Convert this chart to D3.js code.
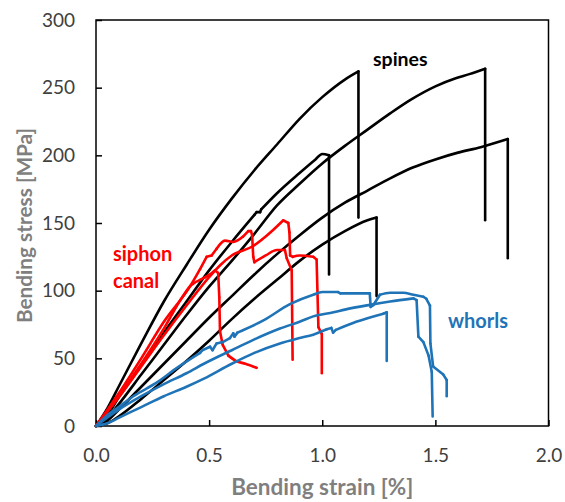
<!DOCTYPE html>
<html><head><meta charset="utf-8">
<script src="https://cdn.jsdelivr.net/npm/d3@7"></script>
<style>body{margin:0;background:#fff}</style>
</head><body>
<svg id="c" width="565" height="502"></svg>
<script>
// ---- data (strain %, stress MPa) ----
const spines1 = [[0,0],[0.05,13],[0.1,29],[0.2,61],[0.3,92],[0.4,119],[0.5,145],[0.6,168],[0.7,189],[0.8,208],[0.9,227],[1.0,243],[1.1,256],[1.16,262],[1.16,154]];
const spines2 = [[0,0],[0.05,6],[0.1,16],[0.2,38],[0.3,60],[0.4,82],[0.5,103],[0.6,122],[0.7,142],[0.8,163],[0.9,179],[1.0,194],[1.1,207],[1.2,219],[1.3,231],[1.39,241],[1.5,251],[1.59,257],[1.65,260],[1.72,264],[1.72,152]];
const spines3 = [[0,0],[0.05,8],[0.1,21],[0.2,45],[0.3,69],[0.4,92],[0.5,115],[0.6,136],[0.7,156],[0.71,158],[0.725,158],[0.73,160],[0.8,172],[0.9,187],[0.97,197],[1.0,201],[1.03,200],[1.03,112]];
const spines4 = [[0,0],[0.05,4],[0.1,12],[0.2,29],[0.3,46],[0.4,63],[0.5,80],[0.6,96],[0.7,112],[0.8,127],[0.9,141],[1.0,154],[1.1,165],[1.2,174],[1.3,183],[1.4,191],[1.5,197],[1.6,202],[1.7,206],[1.82,212],[1.82,124]];
const spines5 = [[0,0],[0.05,2],[0.1,7],[0.2,20],[0.3,34],[0.4,48],[0.5,63],[0.6,79],[0.7,94],[0.8,108],[0.9,122],[1.0,134],[1.1,144],[1.2,152],[1.24,154],[1.24,96]];

const siphon1 = [[0,0],[0.1,22],[0.2,46],[0.3,72],[0.38,95],[0.42,104],[0.46,108],[0.483,110],[0.504,112],[0.526,115],[0.54,113],[0.545,95],[0.548,70],[0.56,60],[0.585,52],[0.62,48],[0.66,46],[0.71,43]];
const siphon2 = [[0,0],[0.1,24],[0.2,50],[0.3,77],[0.415,103],[0.46,116],[0.489,125],[0.511,126],[0.533,131],[0.57,137],[0.607,136],[0.65,140],[0.673,144],[0.685,144],[0.69,141],[0.695,125],[0.70,121],[0.75,126],[0.8,130],[0.835,130],[0.843,124],[0.865,115],[0.869,49]];
const siphon3 = [[0,0],[0.1,21],[0.2,44],[0.3,67],[0.4,89],[0.5,110],[0.55,119],[0.6,126],[0.695,133],[0.75,140],[0.784,145],[0.828,152],[0.85,150],[0.855,143],[0.858,126],[0.87,125],[0.9,126],[0.96,125],[0.975,123],[0.983,73],[0.998,68],[0.998,39]];

const whorls1 = [[0,0],[0.05,8],[0.1,14],[0.165,22],[0.268,32],[0.35,42],[0.46,54],[0.47,56],[0.504,58.6],[0.515,56],[0.533,61],[0.56,62],[0.592,65],[0.607,68.5],[0.612,66],[0.625,69],[0.74,78],[0.857,90],[0.96,97],[1.0,99],[1.07,99],[1.08,98],[1.21,98],[1.214,88],[1.226,89.4],[1.255,97],[1.3,98.5],[1.358,98.5],[1.403,97],[1.447,95.5],[1.46,94],[1.476,89],[1.478,61],[1.49,44],[1.535,38],[1.55,34],[1.55,22]];
const whorls2 = [[0,0],[0.1,12],[0.2,22],[0.3,31],[0.4,39],[0.477,46],[0.6,56],[0.7,64],[0.813,72],[0.9,77],[0.96,81],[1.05,84],[1.1,86],[1.21,89.5],[1.3,92],[1.403,94.3],[1.417,93],[1.425,66],[1.447,62],[1.47,52],[1.484,40],[1.488,7]];
const whorls3 = [[0,0],[0.05,2],[0.1,6],[0.2,14],[0.3,22],[0.4,29],[0.477,35],[0.6,46],[0.7,54],[0.813,61],[0.9,65],[0.96,67.5],[1.02,71.5],[1.04,72.5],[1.048,69],[1.06,71],[1.15,77],[1.27,83],[1.285,84],[1.285,48]];

const xTicks = [0, 0.5, 1.0, 1.5, 2.0];
const yTicks = [0, 50, 100, 150, 200, 250, 300];

const groups = [
  {name:"spines", color:"#000000", series:[spines1,spines2,spines3,spines4,spines5]},
  {name:"siphon", color:"#ff0000", series:[siphon1,siphon2,siphon3]},
  {name:"whorls", color:"#1f74b8", series:[whorls1,whorls2,whorls3]}
];

// ---- layout ----
const L=96, R=548.5, T=20, B=426;
const svg = d3.select("#c");
const x = d3.scaleLinear().domain([0,2]).range([L,R]);
const y = d3.scaleLinear().domain([0,300]).range([B,T]);
const font = "Lato, 'Open Sans', sans-serif";

// axes
const gx = svg.append("g").attr("transform",`translate(0,${B})`)
  .call(d3.axisBottom(x).tickValues(xTicks).tickFormat(d3.format(".1f")).tickSizeInner(-6).tickSizeOuter(0).tickPadding(23));
const gy = svg.append("g").attr("transform",`translate(${L},0)`)
  .call(d3.axisLeft(y).tickValues(yTicks).tickSizeInner(-6).tickSizeOuter(0).tickPadding(21));
[gx,gy].forEach(g=>{
  g.select(".domain").remove();
  g.selectAll("line").attr("stroke","#000").attr("stroke-width",1.5);
  g.selectAll("text").attr("font-family",font).attr("font-size",19).attr("fill","#404040");
});

// frame
svg.append("rect").attr("x",L).attr("y",T).attr("width",R-L).attr("height",B-T)
  .attr("fill","none").attr("stroke","#000").attr("stroke-width",1.5);

// curves: smooth runs (steady increasing strain) drawn with monotone curve, jumps/drops drawn straight
const smoothLine = d3.line().x(d=>x(d[0])).y(d=>y(d[1])).curve(d3.curveMonotoneX);
const straightLine = d3.line().x(d=>x(d[0])).y(d=>y(d[1]));
function pieces(pts){
  const out=[]; let run=[pts[0]];
  for(let i=1;i<pts.length;i++){
    const dx=pts[i][0]-pts[i-1][0];
    if(dx>=0.03){ run.push(pts[i]); }
    else {
      if(run.length>1) out.push({pts:run,smooth:true});
      out.push({pts:[pts[i-1],pts[i]],smooth:false});
      run=[pts[i]];
    }
  }
  if(run.length>1) out.push({pts:run,smooth:true});
  return out;
}
groups.forEach(g=>{
  const gg = svg.append("g").attr("class",g.name);
  g.series.forEach(s=>{
    gg.selectAll(null).data(pieces(s)).join("path")
      .attr("d",p=>p.smooth?smoothLine(p.pts):straightLine(p.pts))
      .attr("fill","none").attr("stroke",g.color)
      .attr("stroke-width",2.6).attr("stroke-linejoin","round").attr("stroke-linecap","round");
  });
});

// annotations
svg.append("text").attr("x",373).attr("y",66)
  .attr("font-family",font).attr("font-weight","bold").attr("font-size",19.5).attr("fill","#000").text("spines");
svg.append("text").attr("x",113).attr("y",261)
  .attr("font-family",font).attr("font-weight","bold").attr("font-size",20).attr("fill","#ff0000").text("siphon");
svg.append("text").attr("x",113).attr("y",288)
  .attr("font-family",font).attr("font-weight","bold").attr("font-size",20).attr("fill","#ff0000").text("canal");
svg.append("text").attr("x",448).attr("y",328)
  .attr("font-family",font).attr("font-weight","bold").attr("font-size",20).attr("fill","#1f74b8").text("whorls");

// axis titles
svg.append("text").attr("x",(L+R)/2).attr("y",495).attr("text-anchor","middle")
  .attr("font-family",font).attr("font-weight","bold").attr("font-size",22.5).attr("fill","#7f7f7f").text("Bending strain [%]");
svg.append("text").attr("transform",`translate(32,225.5) rotate(-90)`).attr("text-anchor","middle")
  .attr("font-family",font).attr("font-weight","bold").attr("font-size",20.8).attr("fill","#7f7f7f").text("Bending stress [MPa]");
</script>
</body></html>
